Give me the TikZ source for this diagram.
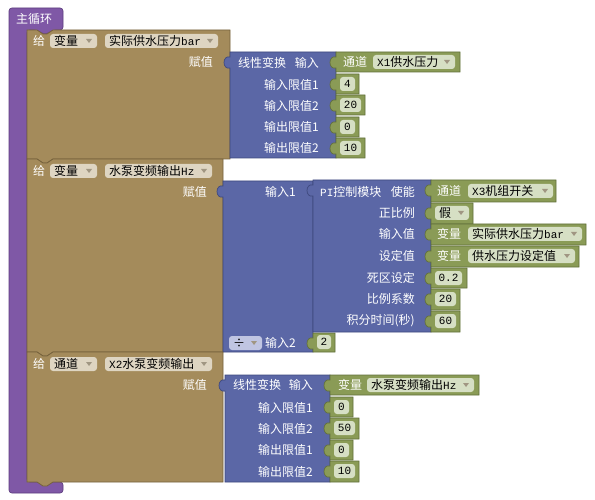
\documentclass[tikz,border=0pt]{standalone}
\usepackage{fontspec}
\setmainfont{Noto Sans CJK SC}
\newfontfamily\monof{Liberation Mono}
\definecolor{pur}{RGB}{127,88,166}
\definecolor{purd}{RGB}{95,62,128}
\definecolor{brn}{RGB}{164,139,91}
\definecolor{brnd}{RGB}{118,98,60}
\definecolor{blu}{RGB}{91,103,166}
\definecolor{blud}{RGB}{62,72,125}
\definecolor{grn}{RGB}{138,155,86}
\definecolor{grnd}{RGB}{98,112,58}
\definecolor{brnf}{RGB}{222,213,194}
\definecolor{grnf}{RGB}{214,223,196}
\definecolor{bluf}{RGB}{192,197,226}
\definecolor{trig}{RGB}{160,150,130}
\newcommand\lat[1]{{\monof\fontsize{11}{12}\selectfont #1}}
\newcommand\valblk[6]{%
\filldraw[fill=#1,draw=#2,line width=0.7pt] (#3,#4) -- (#5,#4) -- (#5,#6) -- (#3,#6) -- (#3,#4+16) .. controls (#3-8,#4+18) and (#3-8,#4+3) .. (#3,#4+5) -- cycle;}
\newcommand\stmtblk[4]{%
\filldraw[fill=brn,draw=brnd,line width=0.7pt] (#1,#2) -- (#1+10,#2) -- (#1+16,#2+4) -- (#1+20,#2+4) -- (#1+26,#2) -- (#3,#2) -- (#3,#4) -- (#1+26,#4) -- (#1+20,#4+4) -- (#1+16,#4+4) -- (#1+10,#4) -- (#1,#4) -- cycle;}
\newcommand\ddf[6]{%
\fill[#6,rounded corners=3pt] (#2,#4-7) rectangle (#3,#4+7);
\node[bt,anchor=west] (#1) at (#2+4,#4) {#5};
\fill[trig] (#3-11,#4-2) -- (#3-5,#4-2) -- (#3-8,#4+2) -- cycle;}
\newcommand\numf[5]{%
\fill[grnf,rounded corners=3pt] (#2,#4-7) rectangle (#3,#4+7);
\node[bt] (#1) at ({(#2+#3)/2},#4) {\lat{#5}};}
\begin{document}
\begin{tikzpicture}[x=1pt,y=-1pt,
  wt/.style={text=white,font=\fontsize{12}{12}\selectfont,inner sep=0pt},
  bt/.style={text=black,font=\fontsize{12}{12}\selectfont,inner sep=0pt}]
\useasboundingbox (0,0) rectangle (595,500);
\fill[white] (0,0) rectangle (595,500);
% main loop
\filldraw[fill=pur,draw=purd,line width=0.7pt,rounded corners=3pt] (9,8) -- (63,8) -- (63,30) -- (53,30) -- (47,34) -- (43,34) -- (37,30) -- (27,30) -- (27,482) -- (63,482) -- (63,493) -- (9,493) -- cycle;
\node[wt,anchor=west] (main) at (16,19) {主循环};
% ---------- block 1
\stmtblk{27}{30}{230}{159}
\node[wt,anchor=west] (g1) at (33,41) {给};
\ddf{v1}{50}{97}{41}{变量}{brnf}
\ddf{n1}{105}{218}{41}{实际供水压力\lat{bar}}{brnf}
\node[wt,anchor=east] (a1) at (213,62) {赋值};
\valblk{blu}{blud}{230}{52}{336}{158}
\node[wt,anchor=west] (lt1) at (238,63) {线性变换};
\node[wt,anchor=east] (li1) at (319,63) {输入};
\node[wt,anchor=east] (l11) at (319,85) {输入限值1};
\node[wt,anchor=east] (l12) at (319,106) {输入限值2};
\node[wt,anchor=east] (l13) at (319,127) {输出限值1};
\node[wt,anchor=east] (l14) at (319,148) {输出限值2};
\valblk{grn}{grnd}{336}{52}{460}{72}
\node[wt,anchor=west] (c1) at (343,62) {通道};
\ddf{c1d}{373}{455}{62}{\lat{X1}供水压力}{grnf}
\valblk{grn}{grnd}{336}{74}{359}{94}
\numf{k11}{340}{355}{84}{4}
\valblk{grn}{grnd}{336}{95}{365}{115}
\numf{k12}{340}{361}{105}{20}
\valblk{grn}{grnd}{336}{117}{359}{137}
\numf{k13}{340}{355}{127}{0}
\valblk{grn}{grnd}{336}{138}{365}{158}
\numf{k14}{340}{361}{148}{10}
% ---------- block 2
\stmtblk{27}{159}{223}{352}
\node[wt,anchor=west] (g2) at (33,171) {给};
\ddf{v2}{50}{97}{171}{变量}{brnf}
\ddf{n2}{105}{212}{171}{水泵变频输出\lat{Hz}}{brnf}
\node[wt,anchor=east] (a2) at (207,192) {赋值};
\valblk{blu}{blud}{223}{181}{313}{352}
\node[wt,anchor=east] (d1) at (296,192) {输入1};
\ddf{dop}{229}{262}{343}{÷}{bluf}
\node[wt,anchor=east] (d2) at (296,343) {输入2};
\valblk{grn}{grnd}{313}{333}{335}{352}
\numf{k2}{317}{331}{342}{2}
\valblk{blu}{blud}{313}{180}{431}{332}
\node[wt,anchor=west] (pi) at (320,192) {\lat{PI}控制模块};
\node[wt,anchor=east] (p1) at (415,192) {使能};
\node[wt,anchor=east] (p2) at (415,213) {正比例};
\node[wt,anchor=east] (p3) at (415,234) {输入值};
\node[wt,anchor=east] (p4) at (415,256) {设定值};
\node[wt,anchor=east] (p5) at (415,278) {死区设定};
\node[wt,anchor=east] (p6) at (415,299) {比例系数};
\node[wt,anchor=east] (p7) at (415,321) {积分时间(秒)};
\valblk{grn}{grnd}{431}{180}{556}{202}
\node[wt,anchor=west] (c3) at (437,191) {通道};
\ddf{c3d}{468}{553}{191}{\lat{X3}机组开关}{grnf}
\valblk{grn}{grnd}{431}{203}{473}{224}
\ddf{fal}{435}{469}{213}{假}{grnf}
\valblk{grn}{grnd}{431}{224}{586}{245}
\node[wt,anchor=west] (v3) at (437,234) {变量};
\ddf{v3d}{468}{582}{234}{实际供水压力\lat{bar}}{grnf}
\valblk{grn}{grnd}{431}{246}{579}{267}
\node[wt,anchor=west] (v4) at (437,256) {变量};
\ddf{v4d}{468}{575}{256}{供水压力设定值}{grnf}
\valblk{grn}{grnd}{431}{268}{467}{288}
\numf{k31}{435}{462}{278}{0.2}
\valblk{grn}{grnd}{431}{289}{460}{310}
\numf{k32}{435}{456}{299}{20}
\valblk{grn}{grnd}{431}{311}{460}{332}
\numf{k33}{435}{456}{321}{60}
% ---------- block 3
\stmtblk{27}{352}{223}{482}
\node[wt,anchor=west] (g3) at (33,364) {给};
\ddf{v5}{50}{97}{364}{通道}{brnf}
\ddf{n5}{105}{212}{364}{\lat{X2}水泵变频输出}{brnf}
\node[wt,anchor=east] (a3) at (207,385) {赋值};
\valblk{blu}{blud}{225}{375}{330}{482}
\node[wt,anchor=west] (lt3) at (233,385) {线性变换};
\node[wt,anchor=east] (li3) at (313,385) {输入};
\node[wt,anchor=east] (l31) at (313,408) {输入限值1};
\node[wt,anchor=east] (l32) at (313,429) {输入限值2};
\node[wt,anchor=east] (l33) at (313,450) {输出限值1};
\node[wt,anchor=east] (l34) at (313,472) {输出限值2};
\valblk{grn}{grnd}{330}{375}{479}{395}
\node[wt,anchor=west] (v6) at (338,385) {变量};
\ddf{v6d}{367}{474}{385}{水泵变频输出\lat{Hz}}{grnf}
\valblk{grn}{grnd}{330}{397}{353}{417}
\numf{k41}{334}{349}{407}{0}
\valblk{grn}{grnd}{330}{418}{359}{439}
\numf{k42}{334}{355}{428}{50}
\valblk{grn}{grnd}{330}{440}{353}{460}
\numf{k43}{334}{349}{450}{0}
\valblk{grn}{grnd}{330}{461}{359}{482}
\numf{k44}{334}{355}{471}{10}
\end{tikzpicture}
\end{document}
